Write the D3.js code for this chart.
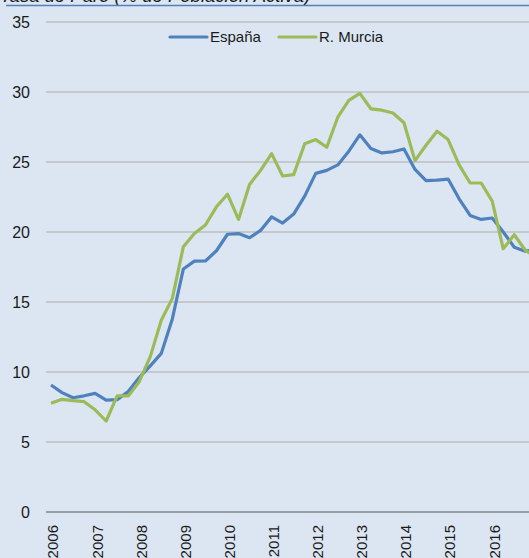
<!DOCTYPE html>
<html>
<head>
<meta charset="utf-8">
<script src="https://cdn.jsdelivr.net/npm/d3@7"></script>
<style>
  html, body { margin: 0; padding: 0; background: #dce6f2; overflow: hidden; }
  svg { display: block; font-family: "Liberation Sans", Arial, sans-serif; }
</style>
</head>
<body>
<div id="chart"></div>
<script>
// Tasa de paro trimestral (EPA), 2006T1 - 2017T1
var years = ["2006", "2007", "2008", "2009", "2010", "2011", "2012", "2013", "2014", "2015", "2016"];
var yTicks = [0, 5, 10, 15, 20, 25, 30, 35];

var espana = [
    9.07, 8.53, 8.16, 8.30,
    8.47, 7.99, 8.03, 8.60,
    9.60, 10.44, 11.33, 13.79,
    17.36, 17.92, 17.93, 18.66,
    19.84, 19.89, 19.59, 20.11,
    21.08, 20.64, 21.28, 22.56,
    24.19, 24.40, 24.79, 25.77,
    26.94, 25.97, 25.65, 25.73,
    25.93, 24.47, 23.67, 23.70,
    23.78, 22.37, 21.18, 20.90,
    21.00, 20.00, 18.91, 18.63,
    18.75
];

var murcia = [
    7.76, 8.05, 7.95, 7.88,
    7.30, 6.50, 8.29, 8.29,
    9.31, 11.10, 13.70, 15.26,
    18.95, 19.90, 20.50, 21.80,
    22.70, 20.90, 23.40, 24.40,
    25.60, 24.00, 24.10, 26.30,
    26.60, 26.05, 28.20, 29.40,
    29.90, 28.80, 28.70, 28.50,
    27.80, 25.10, 26.20, 27.20,
    26.60, 24.80, 23.50, 23.50,
    22.20, 18.80, 19.80, 18.70,
    18.20
];

var series = [
    { name: "España", values: espana, color: "#4f81bd" },
    { name: "R. Murcia", values: murcia, color: "#9bbb59" }
];

var width = 529, height = 558;

var svg = d3.select("#chart").append("svg")
    .attr("width", width)
    .attr("height", height);

svg.append("rect")
    .attr("width", width)
    .attr("height", height)
    .attr("fill", "#dce6f2");

// Title (cut at the top in the original)
svg.append("text")
    .attr("x", 0)
    .attr("y", 2)
    .attr("font-size", 18.5)
    .attr("font-style", "italic")
    .attr("fill", "#1a1a1a")
    .text("Tasa de Paro (% de Población Activa)");

svg.append("line")
    .attr("x1", 6).attr("x2", width)
    .attr("y1", 5.5).attr("y2", 5.5)
    .attr("stroke", "#4f81bd")
    .attr("stroke-width", 1.5);

var x = d3.scaleLinear()
    .domain([0, 43])
    .range([51, 525.3]);

var y = d3.scaleLinear()
    .domain([0, 35])
    .range([512, 22]);

// Gridlines
svg.append("g")
    .selectAll("line")
    .data(yTicks)
    .enter().append("line")
    .attr("x1", 46)
    .attr("x2", width)
    .attr("y1", function(d) { return y(d); })
    .attr("y2", function(d) { return y(d); })
    .attr("stroke", function(d) { return d === 0 ? "#868686" : "#bfbfbf"; })
    .attr("stroke-width", function(d) { return d === 0 ? 1.6 : 1.3; });

// Y axis labels
svg.append("g")
    .selectAll("text")
    .data(yTicks)
    .enter().append("text")
    .attr("x", 30)
    .attr("y", function(d) { return y(d); })
    .attr("dy", "0.36em")
    .attr("text-anchor", "end")
    .attr("font-size", 16)
    .attr("fill", "#1a1a1a")
    .text(function(d) { return d; });

// X axis labels (one per year, rotated)
svg.append("g")
    .selectAll("text")
    .data(years)
    .enter().append("text")
    .attr("transform", function(d, i) {
        return "translate(" + (x(i * 4) + 2) + ",525) rotate(-90)";
    })
    .attr("dy", "0.36em")
    .attr("text-anchor", "end")
    .attr("font-size", 15)
    .attr("fill", "#1a1a1a")
    .text(function(d) { return d; });

// Lines
var line = d3.line()
    .x(function(d, i) { return x(i); })
    .y(function(d) { return y(d); });

svg.append("g")
    .selectAll("path")
    .data(series)
    .enter().append("path")
    .attr("d", function(d) { return line(d.values); })
    .attr("fill", "none")
    .attr("stroke", function(d) { return d.color; })
    .attr("stroke-width", 3.2)
    .attr("stroke-linejoin", "round");

// Legend
var legendX = [170, 279];
var legend = svg.append("g")
    .selectAll("g")
    .data(series)
    .enter().append("g")
    .attr("transform", function(d, i) { return "translate(" + legendX[i] + ",37)"; });

legend.append("line")
    .attr("x1", 0).attr("x2", 37)
    .attr("stroke", function(d) { return d.color; })
    .attr("stroke-width", 3.2)
    .attr("stroke-linecap", "round");

legend.append("text")
    .attr("x", 40)
    .attr("dy", "0.36em")
    .attr("font-size", 15)
    .attr("fill", "#1a1a1a")
    .text(function(d) { return d.name; });
</script>
</body>
</html>
